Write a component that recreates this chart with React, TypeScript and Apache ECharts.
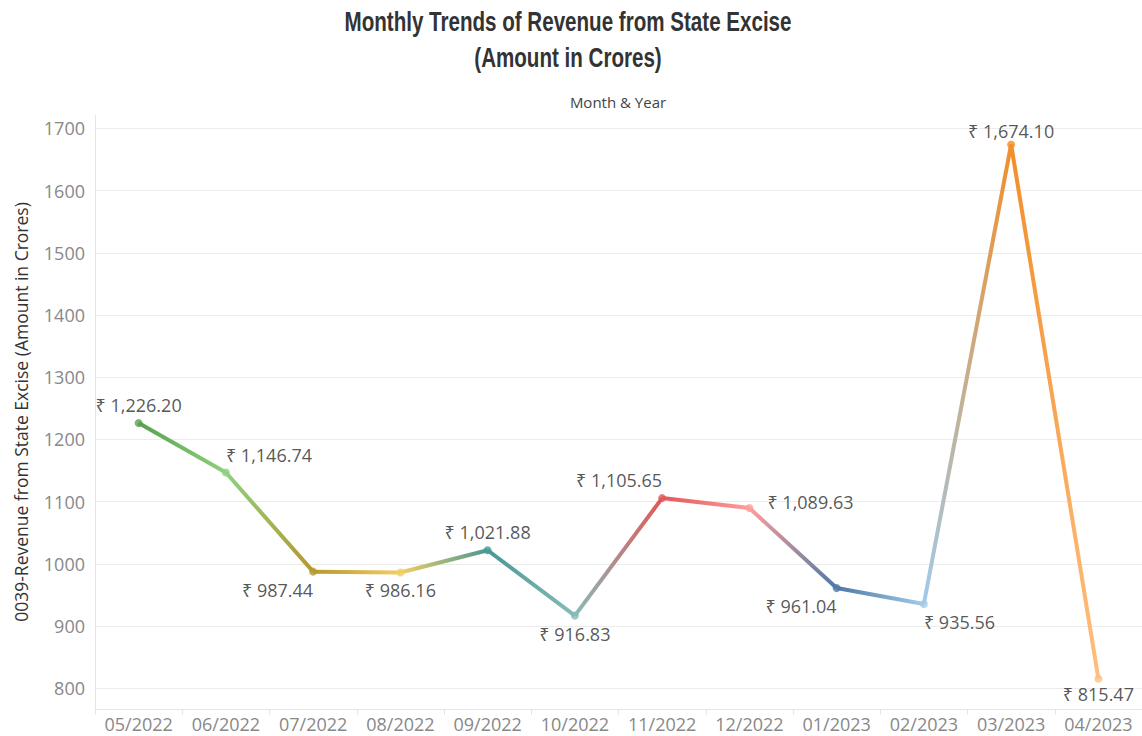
import React, { useEffect, useRef } from 'react';
import * as echarts from 'echarts';

const titleLines = ['Monthly Trends of Revenue from State Excise', '(Amount in Crores)'];
const months = ['05/2022', '06/2022', '07/2022', '08/2022', '09/2022', '10/2022', '11/2022', '12/2022', '01/2023', '02/2023', '03/2023', '04/2023'];
const revenue = [1226.2, 1146.74, 987.44, 986.16, 1021.88, 916.83, 1105.65, 1089.63, 961.04, 935.56, 1674.1, 815.47];
const pointColors = ['#59a14f', '#8cd17d', '#b6992d', '#f1ce63', '#499894', '#86bcb6', '#e15759', '#ff9d9a', '#4e79a7', '#a0cbe8', '#f28e2b', '#ffbe7d'];
const yTicks = [800, 900, 1000, 1100, 1200, 1300, 1400, 1500, 1600, 1700];
const yName = '0039-Revenue from State Excise (Amount in Crores)';
const xName = 'Month & Year';

// label placement (styling only)
const labelPlacement: any[] = [
  { position: 'top' },
  { position: 'top', align: 'left' },
  { position: 'bottom', align: 'right' },
  { position: 'bottom' },
  { position: 'top' },
  { position: 'bottom' },
  { position: 'top', align: 'right' },
  { position: 'right', offset: [9, -6] },
  { position: 'bottom', align: 'right' },
  { position: 'bottom', align: 'left' },
  { position: 'top', distance: 0 },
  { position: 'bottom', distance: 2 },
];

function fmt(v: number): string {
  const [int, dec] = v.toFixed(2).split('.');
  const withCommas = int.replace(/\B(?=(\d{3})+(?!\d))/g, ',');
  return '₹ ' + withCommas + '.' + dec;
}

export default function App() {
  const ref = useRef<HTMLDivElement>(null);
  useEffect(() => {
    if (!ref.current) return;
    const chart = echarts.init(ref.current, null, { renderer: 'svg' });
    const font = "'Open Sans', 'Noto Sans', 'DejaVu Sans', sans-serif";
    const titleFontFamily = "'Liberation Sans', 'DejaVu Sans', sans-serif";
    const titleSize = 28;
    let sx = 0.73;
    try {
      const ctx = document.createElement('canvas').getContext('2d');
      if (ctx) {
        ctx.font = `bold ${titleSize}px ${titleFontFamily}`;
        const w = ctx.measureText(titleLines[0]).width;
        if (w > 0) sx = 447 / w;
      }
    } catch (e) {}

    const segmentSeries = revenue.slice(0, -1).map((_, i) => ({
      type: 'line',
      data: revenue.map((v, j) => (j === i || j === i + 1 ? v : null)),
      symbol: 'none',
      silent: true,
      z: 2,
      lineStyle: {
        width: 4,
        color: new echarts.graphic.LinearGradient(0, 0, 1, 0, [
          { offset: 0, color: pointColors[i] },
          { offset: 1, color: pointColors[i + 1] },
        ]),
      },
    }));

    const option: any = {
      animation: false,
      backgroundColor: '#ffffff',
      grid: { left: 95, right: 0, top: 115, bottom: 27, outerBoundsMode: 'none', containLabel: false },
      graphic: [
        {
          type: 'text', x: 568, y: 21, scaleX: sx, scaleY: 1,
          style: { text: titleLines[0], font: `bold ${titleSize}px ${titleFontFamily}`, fill: '#333333', align: 'center', verticalAlign: 'middle' },
        },
        {
          type: 'text', x: 568, y: 57, scaleX: sx, scaleY: 1,
          style: { text: titleLines[1], font: `bold ${titleSize}px ${titleFontFamily}`, fill: '#333333', align: 'center', verticalAlign: 'middle' },
        },
        {
          type: 'text', x: 618, y: 102,
          style: { text: xName, font: `15px ${font}`, fill: '#444444', align: 'center', verticalAlign: 'middle' },
        },
      ],
      xAxis: {
        type: 'category',
        data: months,
        boundaryGap: true,
        axisLine: { show: true, lineStyle: { color: '#e6e6e6', width: 1 } },
        axisTick: { show: true, length: 6, alignWithLabel: false, lineStyle: { color: '#e6e6e6' } },
        axisLabel: { color: '#888888', fontSize: 18, lineHeight: 18, fontFamily: font, margin: 6, interval: 0 },
        splitLine: { show: false },
      },
      yAxis: {
        type: 'value',
        min: 766.7,
        max: 1721.4,
        name: yName,
        nameLocation: 'middle',
        nameGap: 65,
        nameTextStyle: { color: '#333333', fontSize: 17.5, fontFamily: font },
        axisLine: { show: true, lineStyle: { color: '#e6e6e6', width: 1 } },
        axisTick: { show: false, customValues: yTicks },
        axisLabel: {
          color: '#888888', fontSize: 18, fontFamily: font, margin: 10, customValues: yTicks,
          formatter: (v: number) => String(Math.round(v)),
        },
        splitLine: { show: true, lineStyle: { color: '#ececec', width: 1 } },
      },
      series: [
        ...segmentSeries,
        {
          type: 'scatter',
          symbol: 'circle',
          symbolSize: 8,
          z: 3,
          data: revenue.map((v, i) => ({
            value: v,
            itemStyle: { color: pointColors[i] },
            label: { show: true, ...labelPlacement[i] },
          })),
          label: {
            show: true,
            color: '#2b2b2b',
            fontSize: 18,
            fontFamily: font,
            formatter: (p: any) => fmt(revenue[p.dataIndex]),
          },
        },
      ],
    };
    chart.setOption(option);
    return () => chart.dispose();
  }, []);
  return <div ref={ref} style={{ position: 'fixed', left: 0, top: 0, width: 1142, height: 736 }} />;
}
